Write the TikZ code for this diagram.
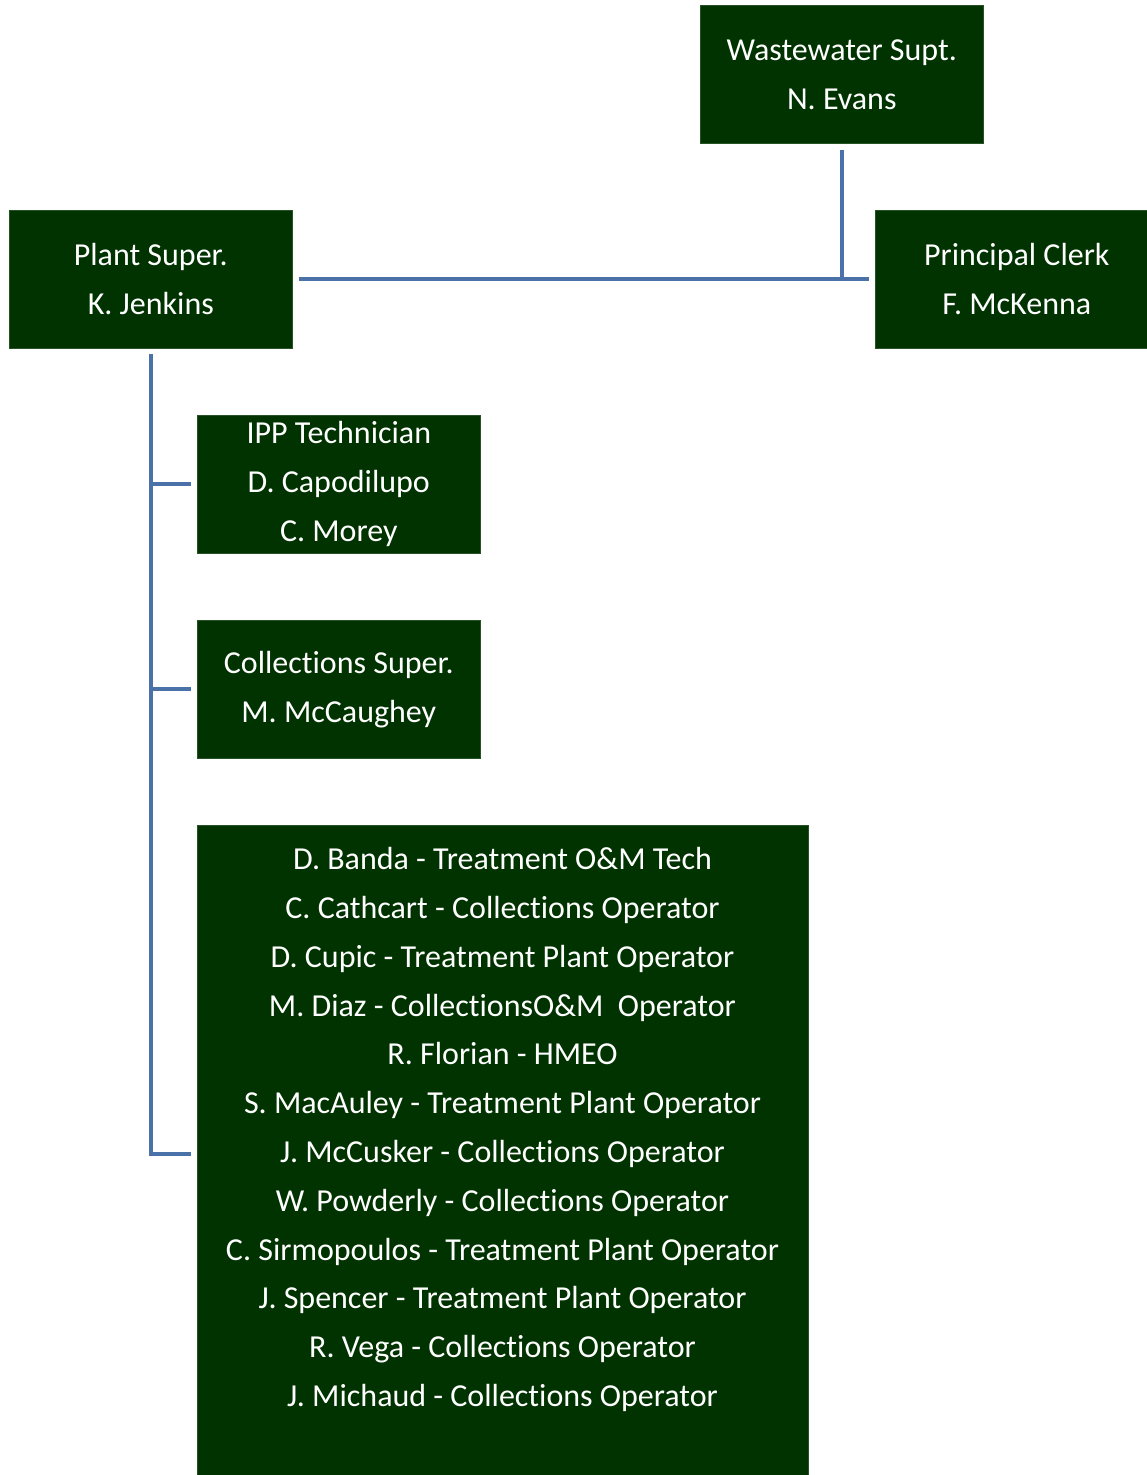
\documentclass[tikz,border=0pt]{standalone}
\usepackage{fontspec}
\setmainfont{Carlito}[Ligatures={NoCommon}]
\definecolor{boxgreen}{HTML}{003300}
\definecolor{connblue}{HTML}{4A72A8}
\begin{document}
\begin{tikzpicture}[x=1pt,y=-1pt,
  box/.style={fill=boxgreen,draw=boxgreen!85!white,line width=0.6pt,text=white,align=center,
    font=\fontsize{32}{49}\selectfont,inner sep=0pt,anchor=north west},
  conn/.style={draw=connblue,line width=4pt}]
\useasboundingbox (0,0) rectangle (1147,1475);
\node[box,minimum width=283,minimum height=138] (ws) at (700,5) {Wastewater Supt.\\N. Evans};
\node[box,minimum width=283,minimum height=138] (ps) at (9,210) {Plant Super.\\K. Jenkins};
\node[box,minimum width=283,minimum height=138] (pc) at (875,210) {Principal Clerk\\F. McKenna};
\node[box,minimum width=283,minimum height=138] (ipp) at (197,415) {IPP Technician\\D. Capodilupo\\C. Morey};
\node[box,minimum width=283,minimum height=138] (cs) at (197,620) {Collections Super.\\M. McCaughey};
\node[box,minimum width=611,minimum height=652] (ops) at (197,825) {};
\node[text=white,align=center,font=\fontsize{32}{48.8}\selectfont,inner sep=0pt] (opstext) at (502.5,1129.5) {%
D. Banda - Treatment O\&M Tech\\
C. Cathcart - Collections Operator\\
D. Cupic - Treatment Plant Operator\\
M. Diaz - CollectionsO\&M\ \ Operator\\
R. Florian - HMEO\\
S. MacAuley - Treatment Plant Operator\\
J. McCusker - Collections Operator\\
W. Powderly - Collections Operator\\
C. Sirmopoulos - Treatment Plant Operator\\
J. Spencer - Treatment Plant Operator\\
R. Vega - Collections Operator\\
J. Michaud - Collections Operator};
\coordinate (j1) at ([xshift=0.5pt]ws.south |- ps.east);
\draw[conn] ([yshift=-6pt,xshift=0.5pt]ws.south) -- (j1);
\draw[conn] ([xshift=6pt]ps.east) -- ([xshift=-6pt]pc.west);
\draw[conn] ([yshift=-5pt,xshift=0.5pt]ps.south) |- ([xshift=-6pt,yshift=-3pt]ops.west);
\draw[conn] ([xshift=0.5pt]ps.south |- ipp.west) -- ([xshift=-6pt]ipp.west);
\draw[conn] ([xshift=0.5pt]ps.south |- cs.west) -- ([xshift=-6pt]cs.west);
\end{tikzpicture}
\end{document}
